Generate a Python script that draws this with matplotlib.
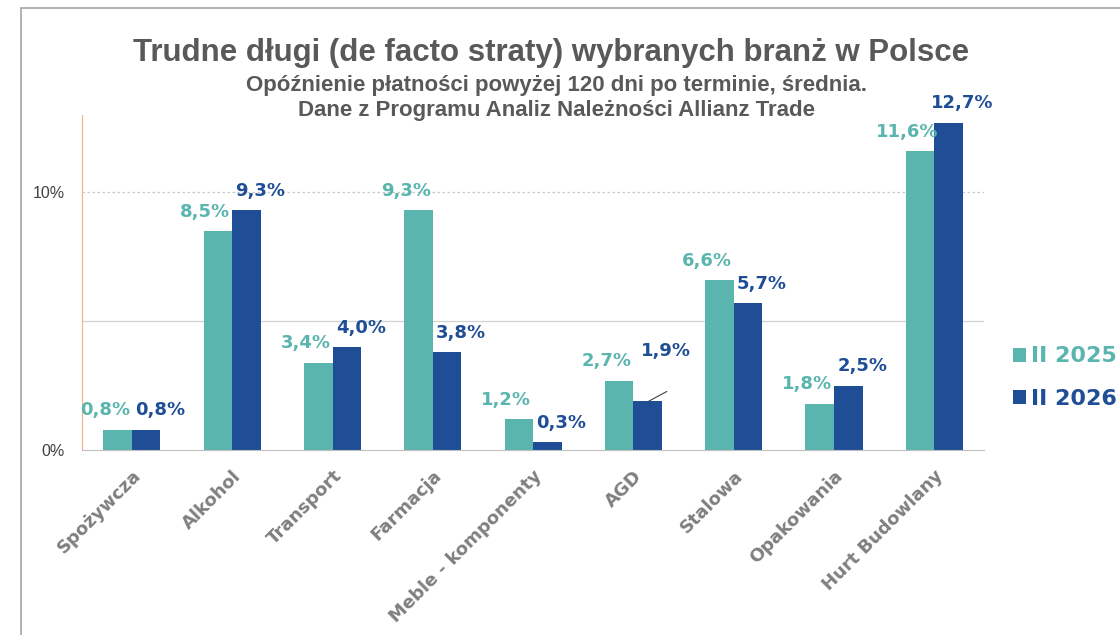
import numpy as np
import matplotlib.pyplot as plt
from matplotlib.patches import Rectangle
from matplotlib.ticker import FuncFormatter

categories = ['Spożywcza', 'Alkohol', 'Transport', 'Farmacja', 'Meble - komponenty',
              'AGD', 'Stalowa', 'Opakowania', 'Hurt Budowlany']
ii_2025 = [0.8, 8.5, 3.4, 9.3, 1.2, 2.7, 6.6, 1.8, 11.6]
ii_2026 = [0.8, 9.3, 4.0, 3.8, 0.3, 1.9, 5.7, 2.5, 12.7]
series_names = ['II 2025', 'II 2026']

teal = '#5BB5AF'
navy = '#1F4E96'
grey_txt = '#595959'
narrow = ['Liberation Sans Narrow', 'Liberation Sans']

fig = plt.figure(figsize=(11.2, 6.35), dpi=100)
ax = fig.add_axes([0.073, 0.291, 0.806, 0.528])

x = np.arange(len(categories))
w = 0.285
b1 = ax.bar(x - w / 2, ii_2025, w, color=teal, label=series_names[0])
b2 = ax.bar(x + w / 2, ii_2026, w, color=navy, label=series_names[1])

def fmt(v):
    return f'{v:.1f}'.replace('.', ',') + '%'

for rect, v in zip(b1, ii_2025):
    ax.annotate(fmt(v), (rect.get_x() + rect.get_width() / 2, v),
                xytext=(-9, 14), textcoords='offset points', ha='center', va='center',
                color=teal, fontsize=13, fontweight='bold')
for i, (rect, v) in enumerate(zip(b2, ii_2026)):
    xc = rect.get_x() + rect.get_width() / 2
    if categories[i] == 'AGD':
        # label lifted above the bar with a short leader line
        ax.annotate(fmt(v), (xc, v), xytext=(13, 36), textcoords='offset points',
                    ha='center', va='center', color=navy, fontsize=13, fontweight='bold')
        ax.annotate('', (xc + 0.01, v), xytext=(13, 7), textcoords='offset points',
                    arrowprops=dict(arrowstyle='-', color='#404040', lw=0.8,
                                    shrinkA=0, shrinkB=0))
    else:
        ax.annotate(fmt(v), (xc, v), xytext=(10, 14), textcoords='offset points',
                    ha='center', va='center', color=navy, fontsize=13, fontweight='bold')

ax.set_xlim(-0.5, len(categories) - 0.5)
ax.set_ylim(0, 13)
ax.set_yticks([0, 5, 10])
ax.yaxis.set_major_formatter(FuncFormatter(lambda v, p: '' if v == 5 else f'{v:.0f}%'))
ax.tick_params(axis='y', length=0, labelsize=11.5, labelcolor='#404040', pad=12)
for lbl in ax.get_yticklabels():
    lbl.set_family('Liberation Sans')
ax.axhline(5, color='#D0D0D0', lw=0.9, zorder=0)
ax.axhline(10, color='#C8C8C8', lw=0.9, ls=(0, (2, 2)), zorder=0)

ax.set_xticks(x)
ax.set_xticklabels(categories, rotation=45, ha='right', va='top', rotation_mode='anchor',
                   fontsize=13, fontweight='bold', color='#7F7F7F')
ax.tick_params(axis='x', length=0, pad=12)

for s in ['top', 'right']:
    ax.spines[s].set_visible(False)
ax.spines['left'].set_color('#F4B183')
ax.spines['bottom'].set_color('#BFBFBF')

fig.legend(loc='center left', bbox_to_anchor=(1013 / 1120, 0.4055), frameon=False,
           labelcolor='linecolor', prop={'size': 16, 'weight': 'bold'},
           borderpad=0, borderaxespad=0,
           handlelength=0.6, handleheight=0.6, handletextpad=0.2, labelspacing=1.0)

fig.text(0.492, 0.917, 'Trudne długi (de facto straty) wybranych branż w Polsce',
         ha='center', va='center', fontsize=22.5, fontweight='bold', color=grey_txt,
         family=narrow)
fig.text(0.497, 0.866, 'Opóźnienie płatności powyżej 120 dni po terminie, średnia.',
         ha='center', va='center', fontsize=16, fontweight='bold', color=grey_txt,
         family=narrow)
fig.text(0.497, 0.826, 'Dane z Programu Analiz Należności Allianz Trade',
         ha='center', va='center', fontsize=16, fontweight='bold', color=grey_txt,
         family=narrow)

fig.patches.append(Rectangle((21 / 1120, -0.1), 1.2, 0.1 + (635 - 8) / 635,
                             transform=fig.transFigure, fill=False, edgecolor='#A6A6A6', lw=1.2))

fig.savefig('out.png', dpi=100)
